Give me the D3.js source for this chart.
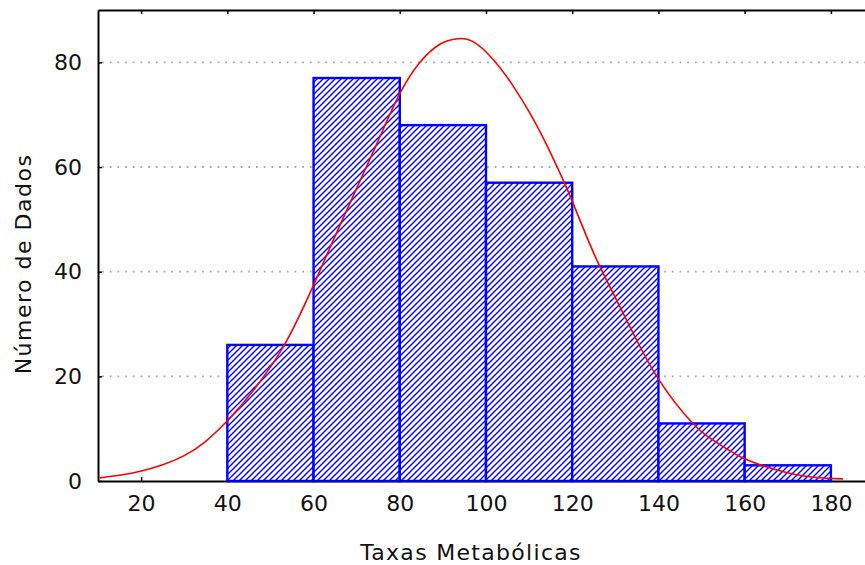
<!DOCTYPE html>
<html>
<head>
<meta charset="utf-8">
<script src="https://cdn.jsdelivr.net/npm/d3@7"></script>
<style>
  body { margin: 0; background: #fff; }
  svg { display: block; }
  text { font-family: "DejaVu Sans", sans-serif; fill: #111; }
</style>
</head>
<body>
<svg id="chart" width="865" height="565"></svg>
<script>
// histogram bins (Taxas Metabólicas) and counts
let bin_starts = [20, 40, 60, 80, 100, 120, 140, 160];
let bin_ends   = [40, 60, 80, 100, 120, 140, 160, 180];
let counts     = [0, 26, 77, 68, 57, 41, 11, 3];

// fitted curve
let curve_x = [10.3, 15.0, 19.6, 25.0, 30.1, 34.7, 40.0, 46.3, 52.8, 57.2, 60.2, 64.4, 70.7, 75.3, 80.0, 84.6, 89.2, 93.4,
               96.9, 101.5, 106.2, 110.8, 114.8, 118.7, 122.4, 126.4, 132.7, 139.6, 148.0, 153.6, 159.6, 167.5, 175.1, 182.8];
let curve_y = [0.6, 1.1, 1.8, 3.1, 4.9, 7.4, 11.5, 17.6, 25.4, 32.4, 37.8, 45.7, 57.2, 65.6, 74.0, 79.9, 83.4, 84.5,
               84.0, 80.7, 75.6, 69.4, 63.0, 56.0, 48.6, 41.0, 30.6, 20.0, 11.0, 7.3, 4.4, 2.1, 0.8, 0.4];

let x_ticks = [20, 40, 60, 80, 100, 120, 140, 160, 180];
let y_ticks = [0, 20, 40, 60, 80];
let x_title = "Taxas Metabólicas";
let y_title = "Número de Dados";

function gen_histogram(){
    let svg = d3.select('#chart');

    let xScale = d3.scaleLinear().domain([10, 190]).range([98, 874]);
    let yScale = d3.scaleLinear().domain([0, 90]).range([481, 10]);

    // hatch pattern for the bars
    let pat = svg.append('defs').append('pattern')
        .attr('id', 'hatch')
        .attr('patternUnits', 'userSpaceOnUse')
        .attr('width', 6).attr('height', 6);
    pat.append('rect').attr('width', 6).attr('height', 6).attr('fill', 'white');
    pat.append('path')
        .attr('d', 'M-1,1 l2,-2 M0,6 l6,-6 M5,7 l2,-2')
        .attr('stroke', '#0000ff')
        .attr('stroke-width', 1.4);

    // dotted grid lines
    svg.append('g')
        .selectAll('line')
        .data(y_ticks.filter(d => d > 0))
        .join('line')
        .attr('x1', xScale(10) + 4)
        .attr('x2', 865)
        .attr('y1', d => yScale(d))
        .attr('y2', d => yScale(d))
        .attr('stroke', '#aaaaaa')
        .attr('stroke-width', 1.8)
        .attr('stroke-dasharray', '1.8,5.9');

    // frame / axes with inner ticks
    let xAxis = svg.append('g')
        .attr('transform', `translate(0,${yScale(0)})`)
        .call(d3.axisBottom(xScale).tickValues(x_ticks).tickSizeInner(-4).tickSizeOuter(0).tickPadding(14));
    svg.append('g')
        .attr('transform', `translate(0,${yScale(90)})`)
        .call(d3.axisTop(xScale).tickValues(x_ticks).tickSizeInner(-4).tickSizeOuter(0).tickFormat(''));
    let yAxis = svg.append('g')
        .attr('transform', `translate(${xScale(10)},0)`)
        .call(d3.axisLeft(yScale).tickValues(y_ticks).tickSizeInner(-4).tickSizeOuter(0).tickPadding(16));

    svg.selectAll('.domain').attr('stroke', '#000').attr('stroke-width', 2);
    svg.selectAll('.tick line').attr('stroke', '#000').attr('stroke-width', 1.5);
    xAxis.selectAll('text').attr('font-size', 22).attr('font-family', 'DejaVu Sans').attr('fill', '#111');
    yAxis.selectAll('text').attr('font-size', 22).attr('font-family', 'DejaVu Sans').attr('fill', '#111');

    // bars
    let bins = counts.map((c, i) => ({lo: bin_starts[i], hi: bin_ends[i], n: c}));
    svg.append('g')
        .selectAll('rect')
        .data(bins)
        .join('rect')
        .attr('x', d => xScale(d.lo))
        .attr('y', d => yScale(d.n))
        .attr('width', d => xScale(d.hi) - xScale(d.lo))
        .attr('height', d => yScale(0) - yScale(d.n))
        .attr('fill', 'url(#hatch)')
        .attr('stroke', '#0000ff')
        .attr('stroke-width', 2.4);

    // fitted curve
    let pts = curve_x.map((v, i) => [v, curve_y[i]]);
    svg.append('path')
        .datum(pts)
        .attr('fill', 'none')
        .attr('stroke', '#ff0000')
        .attr('stroke-width', 1.6)
        .attr('d', d3.line().x(d => xScale(d[0])).y(d => yScale(d[1])).curve(d3.curveNatural));

    // axis titles
    svg.append('text')
        .attr('x', 471)
        .attr('y', 560)
        .attr('text-anchor', 'middle')
        .attr('font-size', 22)
        .attr('letter-spacing', 1.3)
        .text(x_title);

    svg.append('text')
        .attr('transform', 'translate(31,264) rotate(-90)')
        .attr('text-anchor', 'middle')
        .attr('font-size', 22)
        .attr('letter-spacing', 1.5)
        .text(y_title);
}

gen_histogram();
</script>
</body>
</html>
